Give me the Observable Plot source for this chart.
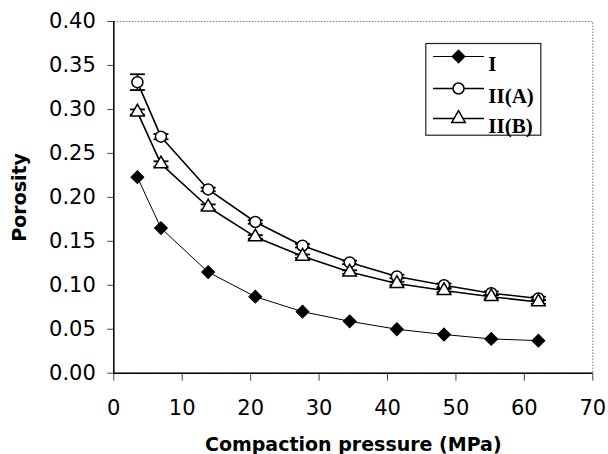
<!DOCTYPE html>
<html><head><meta charset="utf-8">
<script src="https://cdn.jsdelivr.net/npm/d3@7"></script>
<script src="https://cdn.jsdelivr.net/npm/@observablehq/plot@0.6"></script>
<style>
body{margin:0;background:#fff}
svg g[aria-label="x-axis label"] text, svg g[aria-label="y-axis label"] text{font-weight:bold;font-size:19px}
</style></head><body><div id="chart"></div>
<script>
const pressure = [3.45, 6.89, 13.79, 20.68, 27.58, 34.47, 41.37, 48.26, 55.16, 62.05];
const seriesI   = [0.223, 0.165, 0.115, 0.087, 0.070, 0.059, 0.050, 0.044, 0.039, 0.037];
const seriesIIA = [0.331, 0.269, 0.209, 0.172, 0.145, 0.126, 0.110, 0.100, 0.091, 0.085];
const seriesIIB = [0.297, 0.238, 0.189, 0.155, 0.133, 0.115, 0.102, 0.094, 0.087, 0.081];
const errI   = [0, 0, 0, 0, 0, 0, 0, 0, 0, 0];
const errIIA = [0.009, 0.003, 0.002, 0.002, 0.002, 0.002, 0.002, 0.002, 0.002, 0.002];
const errIIB = [0.003, 0.003, 0.003, 0.002, 0.002, 0.002, 0.002, 0.002, 0.002, 0.002];
const seriesNames = ["I", "II(A)", "II(B)"];
const xTicks = [0, 10, 20, 30, 40, 50, 60, 70];
const yTicks = [0, 0.05, 0.10, 0.15, 0.20, 0.25, 0.30, 0.35, 0.40];

const styles = {
  "I":     {symbol: "diamond2", r: 5.5, fill: "black", lw: 1},
  "II(A)": {symbol: "circle",   r: 5.5, fill: "white", lw: 1.6},
  "II(B)": {symbol: "triangle", r: 5,   fill: "white", lw: 1.6}
};
const valuesBy = {"I": seriesI, "II(A)": seriesIIA, "II(B)": seriesIIB};
const errBy = {"I": errI, "II(A)": errIIA, "II(B)": errIIB};

const rows = [];
for (const s of seriesNames) pressure.forEach((p, i) => rows.push({series: s, x: p, y: valuesBy[s][i], e: errBy[s][i]}));
const errRows = rows.filter(d => d.e > 0);

const capSymbol = {draw(ctx) { ctx.moveTo(-7.5, 0); ctx.lineTo(7.5, 0); }};
const legendLine = {draw(ctx) { ctx.moveTo(-25.5, 0); ctx.lineTo(25.5, 0); }};

const marks = [
  Plot.frame({stroke: "#777", strokeDasharray: "1.5,1.5"}),
  Plot.axisY({ticks: yTicks, tickFormat: d3.format(".2f"), tickSize: 6, tickPadding: 12, stroke: "#444",
    label: "Porosity", labelAnchor: "center", labelArrow: "none", labelOffset: 101}),
  Plot.axisX({ticks: xTicks, tickSize: 8, tickPadding: 19, stroke: "#444",
    label: "Compaction pressure (MPa)", labelAnchor: "center", labelArrow: "none", labelOffset: 78}),
  Plot.ruleX([0], {stroke: "black", strokeWidth: 1.5}),
  Plot.ruleY([0], {stroke: "black", strokeWidth: 1.5}),
  Plot.ruleX(errRows, {x: "x", y1: d => d.y - d.e, y2: d => d.y + d.e, stroke: "black", strokeWidth: 1.5}),
  Plot.dot(errRows, {x: "x", y: d => d.y + d.e, symbol: capSymbol, stroke: "black", strokeWidth: 1.8}),
  Plot.dot(errRows, {x: "x", y: d => d.y - d.e, symbol: capSymbol, stroke: "black", strokeWidth: 1.8})
];
for (const s of seriesNames) {
  const st = styles[s];
  const data = rows.filter(d => d.series === s);
  marks.push(Plot.line(data, {x: "x", y: "y", stroke: "black", strokeWidth: st.lw}));
}
for (const s of seriesNames) {
  const st = styles[s];
  const data = rows.filter(d => d.series === s);
  marks.push(Plot.dot(data, {x: "x", y: "y", symbol: st.symbol, r: st.r, fill: st.fill, stroke: "black", strokeWidth: 1.5}));
}
// legend inside the frame
marks.push(Plot.frame({insetLeft: 312, insetTop: 22, insetRight: 52, insetBottom: 238, stroke: "#222", strokeWidth: 1.2}));
const legendDy = [35, 67, 97];
seriesNames.forEach((s, i) => {
  const st = styles[s];
  marks.push(Plot.dot([s], {frameAnchor: "top-left", dx: 344.7, dy: legendDy[i], symbol: legendLine, stroke: "black", strokeWidth: st.lw}));
  marks.push(Plot.dot([s], {frameAnchor: "top-left", dx: 344.7, dy: legendDy[i], symbol: st.symbol, r: st.r, fill: st.fill, stroke: "black", strokeWidth: 1.5}));
  marks.push(Plot.text([s], {frameAnchor: "top-left", dx: 374.5, dy: legendDy[i], text: d => d, textAnchor: "start",
    fontFamily: "Liberation Serif", fontWeight: "bold", fontSize: 21, fill: "black"}));
});

const chart = Plot.plot({
  width: 608, height: 454,
  marginLeft: 113.3, marginRight: 15.7, marginTop: 21, marginBottom: 81.3,
  style: {fontFamily: "DejaVu Sans", fontSize: "21px", color: "black", background: "white"},
  x: {domain: [0, 70]},
  y: {domain: [0, 0.4]},
  marks
});
document.getElementById("chart").appendChild(chart);
</script></body></html>
